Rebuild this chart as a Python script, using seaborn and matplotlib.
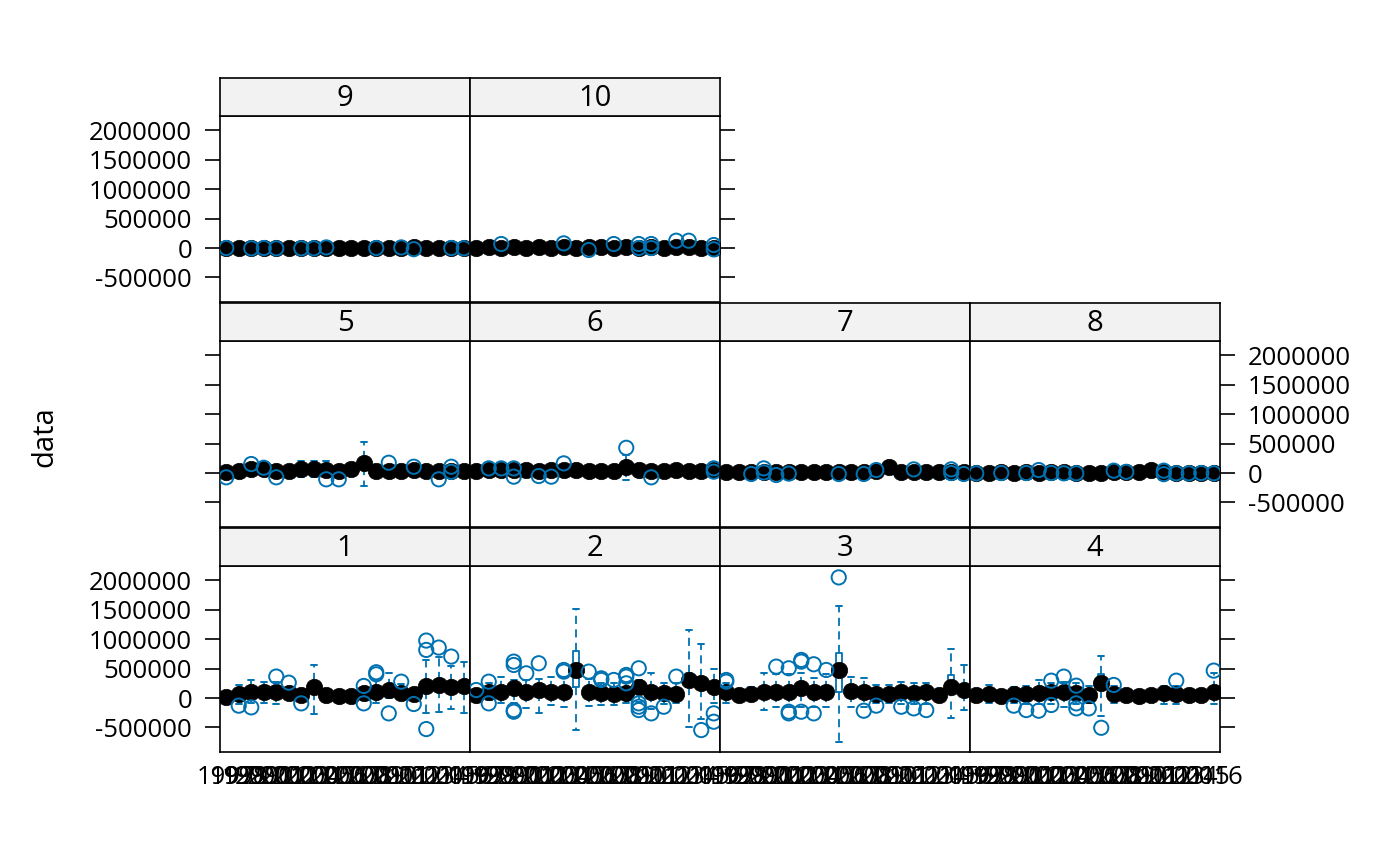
import numpy as np
import pandas as pd
import seaborn as sns
import matplotlib
matplotlib.use("Agg")
import matplotlib.pyplot as plt

# categories on the x axis (same 20 years in every panel)
years = ["1997", "1998", "1999", "2000", "2001", "2002", "2003", "2004", "2005", "2006",
         "2007", "2008", "2009", "2010", "2011", "2012", "2013", "2014", "2015", "2016"]
panels = ["1", "2", "3", "4", "5", "6", "7", "8", "9", "10"]

# box statistics per panel, values in thousands
med = [
    [25, 68, 108, 108, 108, 80, 51, 193, 51, 34, 34, 80, 108, 136, 80, 68, 205, 222, 193, 205],
    [51, 108, 108, 165, 108, 136, 108, 108, 477, 108, 91, 68, 80, 193, 108, 91, 68, 307, 250, 193],
    [108, 51, 68, 108, 108, 108, 165, 108, 108, 477, 125, 108, 68, 68, 108, 80, 108, 51, 193, 136],
    [51, 68, 34, 68, 68, 91, 108, 108, 91, 51, 261, 68, 51, 34, 51, 80, 68, 51, 51, 108],
    [20, 40, 70, 60, 30, 40, 70, 60, 50, 40, 60, 164, 40, 40, 30, 50, 40, 30, 40, 30],
    [40, 51, 51, 51, 45, 40, 45, 51, 51, 40, 40, 40, 107, 45, 40, 40, 45, 40, 40, 45],
    [20, 10, 15, 20, 15, 15, 20, 20, 20, 15, 15, 20, 30, 100, 20, 20, 15, 15, 20, 15],
    [5, 5, 10, 5, 10, 5, 10, 10, 5, 5, 5, 10, 10, 10, 51, 10, 5, 5, 5, 5],
    [0, 5, 0, 5, 0, 5, 0, 0, 5, 5, 0, 0, 5, 0, 5, 10, 0, 0, 5, 0],
    [5, 10, 5, 10, 5, 10, 5, 10, 5, 10, 10, 5, 10, 5, 10, 5, 10, 10, 5, 5],
]
q1 = [
    [5, 30, 60, 60, 60, 50, 30, 100, 30, 20, 20, 50, 60, 90, 50, 40, 120, 130, 110, 110],
    [30, 60, 60, 100, 60, 80, 60, 60, 193, 60, 50, 40, 50, 120, 60, 50, 40, 190, 150, 110],
    [60, 30, 40, 60, 60, 60, 90, 60, 60, 108, 70, 60, 40, 40, 60, 50, 60, 30, 165, 80],
    [30, 40, 20, 40, 40, 50, 60, 60, 50, 30, 130, 40, 30, 20, 30, 50, 40, 30, 30, 60],
    [0, 20, 40, 30, 10, 20, 40, 30, 30, 20, 30, 100, 20, 20, 10, 30, 20, 10, 20, 10],
    [20, 30, 30, 30, 25, 20, 25, 30, 30, 20, 20, 20, 60, 25, 20, 20, 25, 20, 20, 25],
    [5, 0, 0, 5, 0, 0, 5, 5, 5, 0, 0, 5, 10, 60, 5, 5, 0, 0, 5, 0],
    [0, 0, 0, 0, 0, 0, 0, 0, 0, 0, 0, 0, 0, 0, 30, 0, 0, 0, 0, 0],
    [-5, 0, -5, 0, -5, 0, -5, -5, 0, 0, -5, -5, 0, -5, 0, 0, -5, -5, 0, -5],
    [0, 0, 0, 0, 0, 0, 0, 0, 0, 0, 0, 0, 0, 0, 0, 0, 0, 0, 0, 0],
]
q3 = [
    [45, 110, 150, 150, 150, 110, 80, 290, 75, 50, 50, 120, 160, 190, 130, 100, 290, 300, 270, 290],
    [75, 150, 150, 220, 150, 190, 150, 150, 800, 150, 130, 100, 120, 260, 150, 130, 100, 430, 360, 270],
    [150, 80, 100, 160, 160, 160, 220, 160, 160, 760, 180, 160, 100, 100, 160, 120, 160, 80, 392, 190],
    [75, 100, 55, 100, 100, 130, 150, 150, 130, 80, 400, 100, 80, 55, 80, 120, 100, 80, 80, 150],
    [40, 60, 100, 90, 50, 60, 100, 90, 70, 60, 90, 230, 60, 60, 50, 70, 60, 50, 60, 50],
    [60, 70, 70, 70, 65, 60, 65, 70, 70, 60, 60, 60, 150, 65, 60, 60, 65, 60, 60, 65],
    [35, 25, 30, 35, 30, 30, 35, 35, 35, 30, 30, 35, 45, 140, 35, 35, 30, 30, 35, 30],
    [15, 15, 20, 15, 20, 15, 20, 20, 15, 15, 15, 20, 20, 20, 75, 20, 15, 15, 15, 15],
    [5, 10, 5, 10, 5, 10, 5, 5, 10, 10, 5, 5, 10, 5, 10, 15, 5, 5, 10, 5],
    [15, 20, 15, 20, 15, 20, 15, 20, 15, 20, 20, 15, 20, 15, 20, 15, 20, 20, 15, 15],
]
whislo = [
    [-10, -100, -90, -90, -100, 20, 20, -280, 15, 10, 10, -30, -90, 0, -10, -50, -260, -245, -195, -260],
    [0, -40, -90, -90, -170, -250, -120, -150, -545, -130, -120, -120, -90, -60, -180, -110, -90, -490, -350, -90],
    [-90, -20, 0, -205, -150, -150, -150, -150, -150, -745, -150, -150, -90, -90, -100, -100, -100, -40, -347, -205],
    [0, -90, 0, -90, -100, -100, -110, -150, -100, -80, -307, -90, -30, 0, 0, -100, -100, 0, 0, -100],
    [-20, 0, 20, 10, -10, 0, -60, -60, -40, 0, 20, -215, 0, 0, -10, 10, 0, -10, 0, -10],
    [10, 20, 20, 20, 15, 10, 15, 20, 20, 10, 10, 10, -119, 15, 10, 10, 15, 10, 10, 15],
    [0, -10, -5, 0, -5, -5, 0, 0, 0, -5, -5, 0, 10, 40, 0, 0, -5, -5, 0, -5],
    [-10, -10, -5, -10, -5, -10, -5, -5, -10, -10, -10, -5, -5, -5, 10, -5, -10, -10, -10, -10],
    [-10, -5, -10, -5, -10, -5, -10, -10, -5, -5, -10, -10, -5, -10, -5, -5, -10, -10, -5, -10],
    [-10, -5, -10, -5, -10, -5, -10, -5, -10, -5, -5, -10, -5, -10, -5, -10, -5, -5, -10, -10],
]
whishi = [
    [70, 215, 305, 280, 280, 170, 110, 560, 100, 70, 70, 190, 300, 420, 230, 160, 640, 700, 540, 620],
    [110, 250, 360, 300, 300, 330, 360, 350, 1510, 330, 260, 250, 250, 300, 420, 250, 250, 1150, 920, 500],
    [250, 120, 190, 420, 400, 400, 430, 335, 400, 1557, 364, 335, 220, 220, 280, 250, 250, 120, 830, 562],
    [110, 220, 90, 180, 200, 300, 250, 270, 250, 200, 716, 200, 130, 90, 120, 200, 200, 120, 120, 420],
    [60, 90, 130, 120, 70, 90, 200, 210, 210, 90, 110, 531, 90, 90, 70, 100, 90, 70, 90, 70],
    [80, 90, 90, 90, 85, 80, 85, 90, 90, 80, 80, 80, 300, 85, 80, 80, 85, 80, 80, 85],
    [45, 35, 40, 45, 40, 40, 45, 45, 45, 40, 40, 45, 55, 160, 45, 45, 40, 40, 45, 40],
    [20, 20, 25, 20, 25, 20, 25, 25, 20, 20, 20, 25, 25, 25, 90, 25, 20, 20, 20, 20],
    [10, 15, 10, 15, 10, 15, 10, 10, 15, 15, 10, 10, 15, 10, 15, 20, 10, 10, 15, 10],
    [20, 25, 20, 25, 20, 25, 20, 25, 20, 25, 25, 20, 25, 20, 25, 20, 25, 25, 20, 20],
]
# outliers per panel: (year index 1..20, value in thousands)
outliers = [
    [(2, -130), (3, -159), (5, 365), (6, 261), (7, -91), (12, 205), (12, -91), (13, 438), (13, 403),
     (14, -261), (15, 278), (16, -102), (17, 977), (17, 818), (17, -528), (18, 858), (19, 705)],
    [(1, 136), (2, 278), (2, -91), (4, 619), (4, 562), (4, -205), (4, -233), (5, 420), (6, 591),
     (8, 477), (8, 449), (10, 449), (11, 335), (11, 307), (12, 307), (13, 392), (13, 364), (13, 250),
     (14, 506), (14, -91), (14, -148), (14, -205), (15, -261), (16, -148), (17, 364), (19, -545),
     (20, -261), (20, -403)],
    [(1, 307), (1, 278), (5, 534), (6, 506), (6, -233), (6, -261), (7, 648), (7, 619), (7, -233),
     (8, 574), (8, -261), (9, 477), (10, 2051), (12, -216), (13, -130), (15, -148), (16, -176), (17, -205)],
    [(4, -130), (5, -205), (6, -216), (7, 295), (7, -119), (8, 364), (9, 210), (9, -91), (9, -176),
     (10, -176), (11, -506), (12, 222), (17, 295), (20, 466)],
    [(1, -73), (3, 153), (4, 90), (5, -73), (9, -107), (10, -107), (14, 175), (16, 107), (18, -107),
     (19, 107), (19, 20)],
    [(2, 79), (3, 79), (4, 79), (4, -62), (6, -51), (7, -62), (8, 164), (13, 429), (15, -73),
     (20, 79), (20, 23)],
    [(3, -17), (4, 79), (4, 10), (5, -34), (6, -10), (10, -17), (12, -17), (13, 51), (16, 62),
     (19, 62), (19, 0), (20, -17)],
    [(1, -5), (3, 0), (5, 0), (6, 51), (7, 0), (8, -5), (9, -5), (12, 40), (13, 20), (16, 40),
     (16, -20), (17, -5), (18, -5), (19, 0), (20, -5)],
    [(1, 0), (3, -5), (4, 0), (5, -5), (7, -5), (8, -5), (9, 10), (13, 0), (15, 10), (16, -20),
     (19, 0), (20, -5)],
    [(3, 68), (8, 79), (10, -34), (12, 68), (14, 68), (14, 0), (15, 68), (15, 0), (17, 124),
     (18, 124), (20, 51), (20, -23)],
]
yticks = [-500000, 0, 500000, 1000000, 1500000, 2000000]

BLUE = "#0072B2"
W, H = 1400, 866

sns.set_theme(style="white")
plt.rcParams["font.family"] = ["Open Sans", "DejaVu Sans"]
plt.rcParams["text.color"] = "black"
plt.rcParams["xtick.color"] = "black"
plt.rcParams["ytick.color"] = "black"
FS = 18.5

fig = plt.figure(figsize=(W / 100, H / 100), dpi=100)


def rect(x0, y0, x1, y1):
    return [x0 / W, 1 - y1 / H, (x1 - x0) / W, (y1 - y0) / H]


col_x = [220, 470, 720, 970]
# (panel top, panel bottom, strip top) for rows: bottom, middle, top
rows = [(566, 752, 528), (341, 527, 303), (116, 302, 78)]
layout = [(0, 0), (0, 1), (0, 2), (0, 3), (1, 0), (1, 1), (1, 2), (1, 3), (2, 0), (2, 1)]

pos = list(range(1, len(years) + 1))

for i, name in enumerate(panels):
    r, c = layout[i]
    top, bot, stop = rows[r]
    x0 = col_x[c]
    ax = fig.add_axes(rect(x0, top, x0 + 250, bot))
    sax = fig.add_axes(rect(x0, stop, x0 + 250, top))

    stats = []
    for k in range(len(years)):
        stats.append(dict(med=med[i][k] * 1000, q1=q1[i][k] * 1000, q3=q3[i][k] * 1000,
                          whislo=whislo[i][k] * 1000, whishi=whishi[i][k] * 1000, fliers=[]))
    ax.bxp(stats, positions=pos, widths=0.45, capwidths=0.5, showfliers=False,
           manage_ticks=False,
           boxprops=dict(color=BLUE, linewidth=1.3),
           whiskerprops=dict(color=BLUE, linewidth=1.3, linestyle=(0, (4.5, 3))),
           capprops=dict(color=BLUE, linewidth=1.4),
           medianprops=dict(linewidth=0))

    dmed = pd.DataFrame({"x": pos, "y": [v * 1000 for v in med[i]]})
    sns.scatterplot(data=dmed, x="x", y="y", ax=ax, color="black", edgecolor="black",
                    s=140, linewidth=0.5, zorder=3, legend=False)
    dout = pd.DataFrame(outliers[i], columns=["x", "y"])
    dout["y"] = dout["y"] * 1000
    sns.scatterplot(data=dout, x="x", y="y", ax=ax, marker="o", facecolors="none",
                    edgecolor=BLUE, s=105, linewidth=1.4, zorder=4, legend=False)

    ax.set_xlim(0.5, 20.5)
    ax.set_ylim(-918000, 2245000)
    ax.set_xlabel("")
    ax.set_ylabel("")
    for sp in ax.spines.values():
        sp.set_color("black")
        sp.set_linewidth(1.2)
        sp.set_visible(True)

    # x labels only on the bottom row
    ax.set_xticks(pos)
    if r == 0:
        ax.set_xticklabels(years, fontsize=FS)
        ax.tick_params(axis="x", length=0, pad=9)
    else:
        ax.set_xticklabels([])
        ax.tick_params(axis="x", length=0)

    # y axis: alternate labels like lattice
    ax.set_yticks(yticks)
    ax.set_yticklabels([str(t) for t in yticks], fontsize=FS)
    left_lab = (r in (0, 2)) and c == 0
    right_lab = (r == 1) and c == 3
    left_tick = c == 0
    right_tick = (r == 2 and c == 1) or c == 3
    ax.tick_params(axis="y", direction="out", length=11, width=1.2, color="black", pad=9,
                   left=left_tick, right=right_tick,
                   labelleft=left_lab, labelright=right_lab)

    sax.set_facecolor("#F2F2F2")
    sax.set_xticks([])
    sax.set_yticks([])
    for sp in sax.spines.values():
        sp.set_color("black")
        sp.set_linewidth(1.2)
        sp.set_visible(True)
    sax.text(0.5, 0.47, name, ha="center", va="center", fontsize=21, transform=sax.transAxes)

fig.text(45 / W, 1 - 437 / H, "data", rotation=90, ha="center", va="center", fontsize=21)

fig.savefig("out.png", dpi=100, facecolor="white")
